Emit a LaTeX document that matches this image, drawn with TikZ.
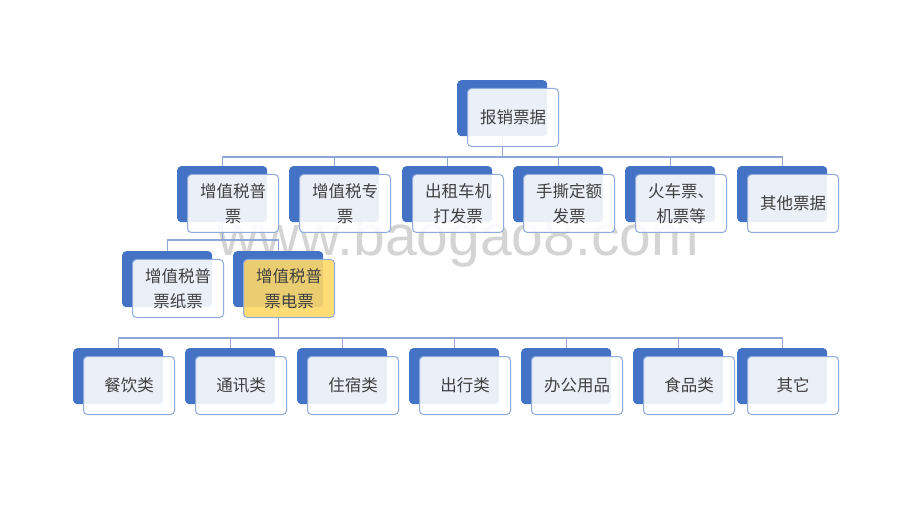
\documentclass[tikz,border=0pt]{standalone}
\usepackage{fontspec}
\newfontfamily\cjk{Noto Sans CJK SC}
\newfontfamily\wmfont{Liberation Sans}
\usetikzlibrary{calc}
\definecolor{backblue}{HTML}{4472C4}
\definecolor{edgeblue}{HTML}{8FAADC}
\definecolor{lineblue}{HTML}{8FA6D6}
\definecolor{txt}{HTML}{404040}
\definecolor{hl}{HTML}{FFD966}
\pgfdeclarelayer{bg}
\pgfsetlayers{bg,main}
\tikzset{
 backbox/.style={fill=backblue, rounded corners=4pt, minimum width=90pt, minimum height=56pt, anchor=north west, inner sep=0pt},
 frontbox/.style={draw=edgeblue, line width=1pt, fill=white, fill opacity=0.89, text opacity=1, rounded corners=4pt, minimum width=91pt, minimum height=58pt, anchor=north west, inner sep=0pt, align=center, font=\cjk\fontsize{16.5}{25}\selectfont, text=txt},
 hlbox/.style={frontbox, fill=hl},
 conn/.style={draw=lineblue, line width=1.1pt}
}
\newcommand\mybox[5]{%
 \node[backbox] (#1b) at (#2,#3) {};
 \node[#5] (#1f) at (#2+10,#3+8) {#4};
}
\begin{document}
\begin{tikzpicture}[x=1pt,y=-1pt]
\useasboundingbox (0,0) rectangle (920,518);
\begin{pgfonlayer}{bg}
\fill[white] (0,0) rectangle (920,518);
\end{pgfonlayer}
% level 1
\mybox{root}{457}{80}{报销票据}{frontbox}
% level 2
\mybox{pt}{177}{166}{增值税普\\票}{frontbox}
\mybox{zp}{289}{166}{增值税专\\票}{frontbox}
\mybox{cz}{402}{166}{出租车机\\打发票}{frontbox}
\mybox{ss}{513}{166}{手撕定额\\发票}{frontbox}
\mybox{hc}{625}{166}{火车票、\\机票等}{frontbox}
\mybox{qt}{737}{166}{其他票据}{frontbox}
% level 3
\mybox{zz}{122}{251}{增值税普\\票纸票}{frontbox}
\mybox{dz}{233}{251}{增值税普\\票电票}{hlbox}
% level 4
\mybox{cy}{73}{348}{餐饮类}{frontbox}
\mybox{tx}{185}{348}{通讯类}{frontbox}
\mybox{zs}{297}{348}{住宿类}{frontbox}
\mybox{cx}{409}{348}{出行类}{frontbox}
\mybox{bg}{521}{348}{办公用品}{frontbox}
\mybox{sp}{633}{348}{食品类}{frontbox}
\mybox{qi}{737}{348}{其它}{frontbox}
% buses
\coordinate (bus1) at (0,157);
\coordinate (bus2) at (0,240);
\coordinate (bus3) at (0,338);
\begin{pgfonlayer}{bg}
% watermark (behind the boxes)
\node[font=\wmfont\fontsize{57}{57}\selectfont, text=black!17, anchor=base west, inner sep=0pt] (wm) at (217,256) {www.baogao8.com};
\foreach \c in {pt,zp,cz,ss,hc,qt}
  \draw[conn] (rootb.south) -- (rootb.south |- bus1) -| (\c b.north);
\foreach \c in {zz,dz}
  \draw[conn] (ptb.south) -- (ptb.south |- bus2) -| (\c b.north);
\foreach \c in {cy,tx,zs,cx,bg,sp,qi}
  \draw[conn] (dzb.south) -- (dzb.south |- bus3) -| (\c b.north);
\end{pgfonlayer}
\end{tikzpicture}
\end{document}
